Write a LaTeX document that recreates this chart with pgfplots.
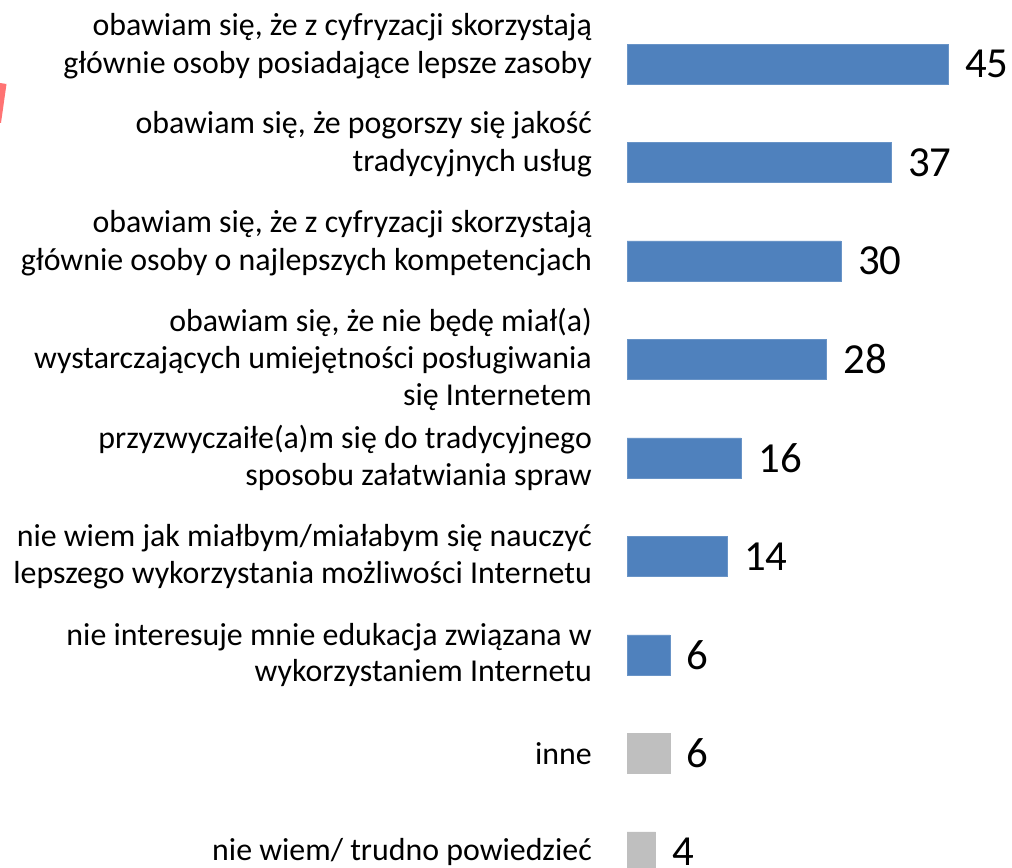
\documentclass[border=0pt]{standalone}
\usepackage{pgfplots}
\pgfplotsset{compat=1.18}
\usepackage{fontspec}
\setmainfont{Carlito}
\definecolor{barblue}{HTML}{4F81BD}
\definecolor{bargray}{HTML}{BFBFBF}
\begin{document}
\begin{tikzpicture}[x=1bp,y=1bp]
\fill[red!55] (0,785) -- (6.5,784) -- (1,745) -- (0,745) -- cycle;
\begin{axis}[at={(627bp,0bp)},anchor=south west,scale only axis,width=385bp,height=868bp,
  xbar,bar width=40bp,xmin=0,xmax=54,ymin=-0.65,ymax=8.163,y dir=reverse,
  axis line style={draw=none},xtick=\empty,ytick={0,...,8},major tick length=0pt,
  /pgf/number format/assume math mode=true,
  yticklabels={
    {obawiam się, że z cyfryzacji skorzystają\\[1bp]głównie osoby posiadające lepsze zasoby\\[-6bp]\strut},
    {obawiam się, że pogorszy się jakość\\[1bp]tradycyjnych usług\\[-6bp]\strut},
    {obawiam się, że z cyfryzacji skorzystają\\[1bp]głównie osoby o najlepszych kompetencjach\\[-6bp]\strut},
    {obawiam się, że nie będę miał(a)\\wystarczających umiejętności posługiwania\\się Internetem},
    {przyzwyczaiłe(a)m się do tradycyjnego\\sposobu załatwiania spraw},
    {nie wiem jak miałbym/miałabym się nauczyć\\lepszego wykorzystania możliwości Internetu},
    {nie interesuje mnie edukacja związana w\\wykorzystaniem Internetu},
    {inne},
    {nie wiem/ trudno powiedzieć}},
  y tick label style={font=\fontsize{32}{37}\selectfont,align=right,inner sep=0pt,xshift=-35bp},
  nodes near coords,
  nodes near coords style={font=\fontsize{43}{50}\selectfont,inner sep=0pt,xshift=17bp,anchor=west,text=black}]
\addplot[fill=barblue,draw=barblue!85!white,bar shift=0pt] coordinates {(45,0) (37,1) (30,2) (28,3) (16,4) (14,5) (6,6)};
\addplot[fill=bargray,draw=bargray,bar shift=0pt] coordinates {(6,7) (4,8)};
\end{axis}
\pgfresetboundingbox
\useasboundingbox (0,0) rectangle (1012,868);
\end{tikzpicture}
\end{document}
